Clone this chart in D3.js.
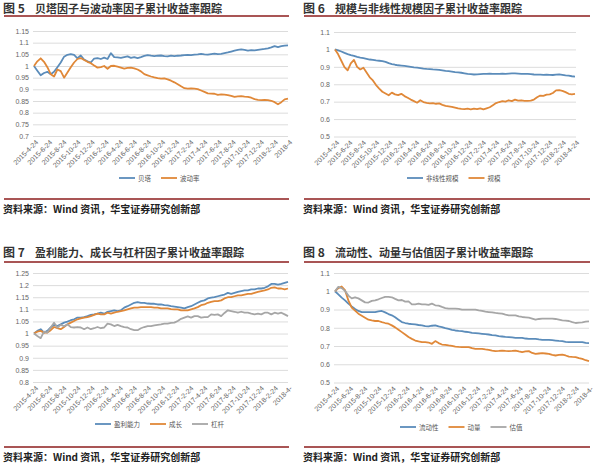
<!DOCTYPE html>
<html>
<head>
<meta charset="utf-8">
<script src="https://cdn.jsdelivr.net/npm/d3@7"></script>
<style>
  body { margin: 0; background: #fff; }
  svg { display: block; }
  text { font-family: "Noto Sans CJK SC", "Noto Sans", sans-serif; }
</style>
</head>
<body>
<div id="chart"></div>
<script>
// x-axis category labels (every second month)
var dates = ['2015-4-24','2015-6-24','2015-8-24','2015-10-24','2015-12-24','2016-2-24','2016-4-24',
  '2016-6-24','2016-8-24','2016-10-24','2016-12-24','2017-2-24','2017-4-24','2017-6-24','2017-8-24',
  '2017-10-24','2017-12-24','2018-2-24'];

// fig 5
var beta = [1.000,0.980,0.960,0.970,0.975,0.965,0.975,0.995,1.015,1.040,1.048,1.051,1.048,1.033,1.045,1.028,1.020,1.015,1.032,1.034,1.030,1.036,1.030,1.055,1.038,1.037,1.035,1.038,1.041,1.035,1.038,1.034,1.038,1.043,1.047,1.044,1.042,1.044,1.045,1.042,1.041,1.044,1.042,1.044,1.045,1.047,1.048,1.047,1.049,1.050,1.052,1.050,1.049,1.051,1.053,1.051,1.052,1.055,1.058,1.062,1.066,1.069,1.071,1.069,1.066,1.068,1.067,1.069,1.071,1.073,1.076,1.080,1.085,1.081,1.085,1.087,1.088];
var volatility = [1.000,1.020,1.033,1.018,0.995,0.965,0.955,0.985,0.978,0.950,0.972,0.995,1.015,1.030,1.034,1.026,1.018,1.012,1.002,0.993,0.995,1.000,0.988,1.000,1.001,0.997,0.993,0.989,0.992,0.993,0.990,0.985,0.977,0.965,0.960,0.955,0.951,0.948,0.946,0.947,0.943,0.937,0.930,0.922,0.913,0.905,0.903,0.904,0.903,0.901,0.895,0.889,0.883,0.882,0.881,0.876,0.878,0.877,0.875,0.872,0.868,0.870,0.871,0.869,0.868,0.864,0.858,0.855,0.854,0.855,0.854,0.851,0.845,0.836,0.845,0.857,0.860];

// fig 6
var nonlinSize = [1.000,0.995,0.988,0.980,0.973,0.967,0.963,0.957,0.953,0.950,0.946,0.942,0.940,0.937,0.935,0.933,0.928,0.921,0.916,0.912,0.909,0.907,0.905,0.903,0.900,0.897,0.895,0.893,0.890,0.888,0.887,0.885,0.884,0.883,0.880,0.877,0.875,0.873,0.870,0.868,0.866,0.863,0.860,0.858,0.856,0.857,0.858,0.859,0.860,0.861,0.860,0.859,0.860,0.861,0.860,0.861,0.862,0.862,0.861,0.860,0.860,0.859,0.858,0.856,0.855,0.855,0.854,0.855,0.854,0.853,0.855,0.857,0.854,0.851,0.849,0.846,0.844];
var size = [1.000,0.972,0.935,0.898,0.880,0.920,0.940,0.900,0.885,0.895,0.868,0.840,0.822,0.795,0.775,0.757,0.747,0.737,0.752,0.742,0.738,0.745,0.732,0.722,0.712,0.703,0.694,0.708,0.698,0.693,0.690,0.692,0.688,0.690,0.682,0.676,0.673,0.670,0.666,0.662,0.659,0.657,0.660,0.656,0.660,0.657,0.662,0.656,0.662,0.668,0.680,0.692,0.698,0.703,0.700,0.708,0.703,0.712,0.706,0.708,0.705,0.704,0.706,0.712,0.725,0.735,0.733,0.740,0.742,0.750,0.765,0.766,0.762,0.755,0.745,0.742,0.745];

// fig 7
var profit = [1.000,1.011,1.018,1.004,1.011,1.025,1.036,1.031,1.038,1.045,1.049,1.055,1.059,1.066,1.066,1.068,1.072,1.077,1.079,1.082,1.086,1.082,1.090,1.093,1.096,1.093,1.096,1.107,1.113,1.120,1.127,1.130,1.127,1.127,1.124,1.123,1.123,1.120,1.120,1.117,1.116,1.113,1.111,1.109,1.107,1.104,1.109,1.113,1.120,1.127,1.134,1.137,1.145,1.148,1.150,1.154,1.158,1.161,1.168,1.164,1.168,1.172,1.175,1.178,1.178,1.182,1.182,1.186,1.186,1.189,1.195,1.205,1.205,1.202,1.205,1.209,1.213];
var growth = [1.000,1.008,1.011,1.004,1.004,1.014,1.027,1.022,1.018,1.027,1.038,1.045,1.052,1.059,1.063,1.066,1.068,1.072,1.077,1.082,1.079,1.079,1.086,1.082,1.086,1.090,1.093,1.096,1.100,1.104,1.107,1.107,1.109,1.109,1.109,1.109,1.107,1.107,1.104,1.104,1.104,1.101,1.100,1.100,1.096,1.096,1.096,1.100,1.104,1.109,1.117,1.120,1.127,1.131,1.134,1.134,1.137,1.145,1.150,1.150,1.154,1.158,1.158,1.161,1.164,1.164,1.168,1.172,1.175,1.178,1.182,1.189,1.191,1.186,1.186,1.182,1.186];
var leverage = [1.000,0.990,0.981,1.008,1.004,1.025,1.045,1.025,1.036,1.030,1.038,1.027,1.025,1.027,1.025,1.018,1.025,1.018,1.022,1.027,1.022,1.025,1.041,1.038,1.031,1.036,1.031,1.027,1.025,1.018,1.014,1.014,1.022,1.027,1.031,1.031,1.034,1.036,1.038,1.041,1.041,1.044,1.045,1.052,1.061,1.066,1.071,1.066,1.072,1.072,1.066,1.068,1.068,1.079,1.077,1.079,1.072,1.085,1.096,1.093,1.090,1.086,1.090,1.086,1.086,1.082,1.079,1.082,1.079,1.086,1.086,1.079,1.086,1.082,1.086,1.079,1.072];

// fig 8
var liquidity = [1.000,0.983,0.965,0.950,0.932,0.917,0.903,0.892,0.886,0.886,0.886,0.886,0.886,0.890,0.892,0.884,0.875,0.868,0.857,0.844,0.831,0.826,0.822,0.820,0.818,0.815,0.813,0.809,0.807,0.811,0.813,0.807,0.804,0.798,0.794,0.789,0.785,0.783,0.782,0.778,0.776,0.772,0.771,0.769,0.767,0.765,0.763,0.760,0.758,0.754,0.752,0.750,0.749,0.747,0.745,0.745,0.745,0.741,0.739,0.739,0.739,0.736,0.734,0.734,0.734,0.732,0.730,0.728,0.727,0.723,0.721,0.721,0.721,0.721,0.721,0.717,0.716];
var momentum = [1.000,1.017,1.026,1.006,0.950,0.910,0.894,0.877,0.866,0.855,0.844,0.840,0.837,0.837,0.831,0.826,0.822,0.813,0.802,0.789,0.776,0.763,0.749,0.739,0.730,0.725,0.721,0.721,0.719,0.712,0.727,0.716,0.708,0.706,0.703,0.701,0.697,0.695,0.694,0.694,0.694,0.688,0.684,0.684,0.684,0.681,0.679,0.675,0.672,0.673,0.675,0.673,0.672,0.673,0.675,0.670,0.666,0.670,0.672,0.662,0.657,0.659,0.661,0.659,0.657,0.651,0.648,0.651,0.653,0.648,0.642,0.640,0.639,0.633,0.629,0.622,0.617];
var valuation = [1.000,1.024,1.017,1.002,0.976,0.961,0.967,0.961,0.950,0.939,0.938,0.947,0.950,0.956,0.963,0.969,0.969,0.967,0.958,0.950,0.952,0.943,0.945,0.928,0.928,0.932,0.928,0.928,0.925,0.932,0.923,0.921,0.914,0.908,0.905,0.905,0.905,0.903,0.899,0.899,0.899,0.899,0.899,0.895,0.892,0.888,0.886,0.884,0.881,0.879,0.877,0.872,0.868,0.868,0.868,0.862,0.859,0.857,0.855,0.850,0.844,0.848,0.850,0.850,0.850,0.850,0.848,0.844,0.840,0.839,0.837,0.831,0.826,0.828,0.829,0.833,0.835];

var BLUE = '#5b8cba', ORANGE = '#e08838', GRAY = '#a6a6a6', RED = '#8c1c1c';
var source = '资料来源：Wind 资讯，华宝证券研究创新部';

var svg = d3.select('#chart').append('svg')
  .attr('width', 600)
  .attr('height', 468)
  .style('background-color', '#fff');

function panel(p) {
  var g = svg.append('g');

  // title + rules
  g.append('text').attr('x', p.left + 1).attr('y', p.titleY)
    .attr('font-size', 12).attr('font-weight', 700).attr('fill', '#333').text(p.fig);
  g.append('text').attr('x', p.left + 33).attr('y', p.titleY)
    .attr('font-size', 11).attr('font-weight', 700).attr('fill', '#333').text(p.title);
  g.append('line').attr('x1', p.left + 2).attr('x2', p.right)
    .attr('y1', p.ruleY).attr('y2', p.ruleY)
    .attr('stroke', RED).attr('stroke-width', 1.5);
  g.append('line').attr('x1', p.left + 2).attr('x2', p.right)
    .attr('y1', p.bottomY).attr('y2', p.bottomY)
    .attr('stroke', RED).attr('stroke-width', 1.5);
  g.append('text').attr('x', p.left + 1).attr('y', p.sourceY)
    .attr('font-size', 10).attr('font-weight', 700).attr('fill', '#222').text(source);

  var x = d3.scaleLinear().domain([0, p.series[0].values.length - 1]).range([p.x0, p.x1]);
  var y = d3.scaleLinear().domain(p.yDomain).range([p.yb, p.yt]);

  // gridlines + y labels
  var ya = g.append('g').attr('transform', 'translate(' + (p.x0 - 1) + ',0)')
    .call(d3.axisLeft(y).tickValues(p.yTicks).tickSize(-(p.gx1 - p.x0 + 1)).tickPadding(4)
      .tickFormat(function(d) { return String(+d.toFixed(2)); }));
  ya.select('.domain').remove();
  ya.selectAll('line').attr('stroke', '#dcdcdc');
  ya.selectAll('text').attr('font-size', 7).attr('fill', '#666')
    .style('font-family', '"Liberation Sans", Arial, sans-serif');

  // x labels, rotated
  var xl = d3.scalePoint().domain(p.labels).range([p.x0, p.x1]);
  g.selectAll('text.xl').data(p.labels).enter().append('text')
    .attr('class', 'xl')
    .attr('transform', function(d) { return 'translate(' + (xl(d) + 3) + ',' + (p.yb + 5) + ') rotate(-45)'; })
    .attr('text-anchor', 'end')
    .attr('dy', '0.35em')
    .attr('font-size', 7)
    .attr('fill', '#666')
    .style('font-family', '"Liberation Sans", Arial, sans-serif')
    .text(function(d) { return d; });

  // lines
  var line = d3.line().x(function(d, i) { return x(i); }).y(function(d) { return y(d); });
  p.series.forEach(function(s) {
    g.append('path').datum(s.values)
      .attr('d', line)
      .attr('fill', 'none')
      .attr('stroke', s.color)
      .attr('stroke-width', 1.8)
      .attr('stroke-linejoin', 'round');
  });

  // legend
  var lx = p.legendX;
  p.series.forEach(function(s) {
    g.append('line').attr('x1', lx).attr('x2', lx + 16)
      .attr('y1', p.legendY).attr('y2', p.legendY)
      .attr('stroke', s.color).attr('stroke-width', 1.8);
    var t = g.append('text').attr('x', lx + 19).attr('y', p.legendY + 2.5)
      .attr('font-size', 6.5).attr('fill', '#555').text(s.name);
    lx += 19 + t.node().getComputedTextLength() + 10;
  });
}

panel({
  left: 2, right: 289, titleY: 13, ruleY: 16, bottomY: 199, sourceY: 213,
  fig: '图 5', title: '贝塔因子与波动率因子累计收益率跟踪',
  x0: 34, x1: 288, gx1: 288, yt: 31, yb: 136,
  yDomain: [0.7, 1.15], yTicks: d3.range(0, 10).map(function(i) { return 0.7 + i * 0.05; }),
  labels: dates.concat(['2018-4']),
  legendX: 119, legendY: 178,
  series: [{ name: '贝塔', values: beta, color: BLUE },
           { name: '波动率', values: volatility, color: ORANGE }]
});

panel({
  left: 302, right: 590, titleY: 13, ruleY: 16, bottomY: 199, sourceY: 213,
  fig: '图 6', title: '规模与非线性规模因子累计收益率跟踪',
  x0: 335, x1: 575, gx1: 576, yt: 32, yb: 136.5,
  yDomain: [0.5, 1.1], yTicks: d3.range(0, 7).map(function(i) { return 0.5 + i * 0.1; }),
  labels: dates.concat(['2018-4-24']),
  legendX: 407, legendY: 178,
  series: [{ name: '非线性规模', values: nonlinSize, color: BLUE },
           { name: '规模', values: size, color: ORANGE }]
});

panel({
  left: 2, right: 289, titleY: 257, ruleY: 262, bottomY: 447, sourceY: 461,
  fig: '图 7', title: '盈利能力、成长与杠杆因子累计收益率跟踪',
  x0: 34, x1: 288, gx1: 288, yt: 273, yb: 382,
  yDomain: [0.8, 1.25], yTicks: d3.range(0, 10).map(function(i) { return 0.8 + i * 0.05; }),
  labels: dates.concat(['2018-4-']),
  legendX: 95, legendY: 424,
  series: [{ name: '盈利能力', values: profit, color: BLUE },
           { name: '成长', values: growth, color: ORANGE },
           { name: '杠杆', values: leverage, color: GRAY }]
});

panel({
  left: 302, right: 590, titleY: 257, ruleY: 262, bottomY: 447, sourceY: 461,
  fig: '图 8', title: '流动性、动量与估值因子累计收益率跟踪',
  x0: 335, x1: 589, gx1: 589, yt: 273, yb: 382.5,
  yDomain: [0.5, 1.1], yTicks: d3.range(0, 7).map(function(i) { return 0.5 + i * 0.1; }),
  labels: dates.concat(['2018-4-']),
  legendX: 400, legendY: 427,
  series: [{ name: '流动性', values: liquidity, color: BLUE },
           { name: '动量', values: momentum, color: ORANGE },
           { name: '估值', values: valuation, color: GRAY }]
});
</script>
</body>
</html>
